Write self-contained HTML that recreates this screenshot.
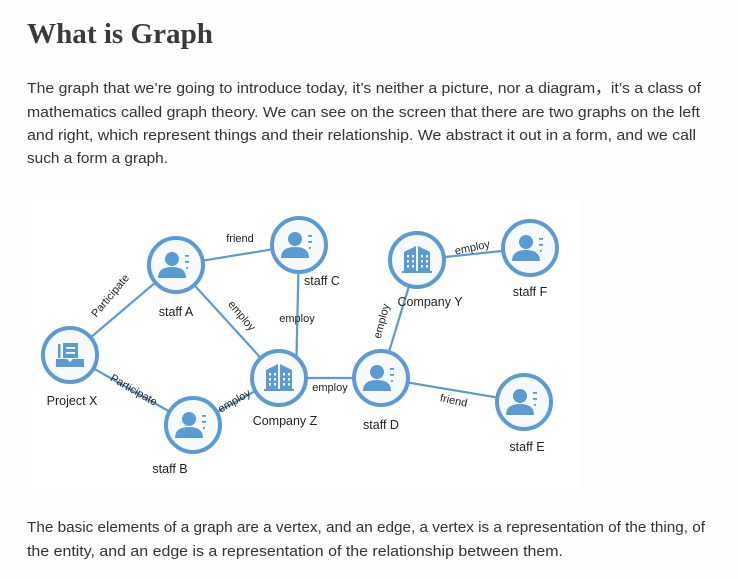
<!DOCTYPE html>
<html><head><meta charset="utf-8"><style>
html,body{margin:0;padding:0;background:#fdfdfd;}
svg{display:block;}
</style></head><body>
<svg width="738" height="579" viewBox="0 0 738 579" xmlns="http://www.w3.org/2000/svg">
<defs>
<g id="person">
  <circle r="27" fill="#f7fafd" stroke="#5b9bd5" stroke-width="4"/>
  <circle cx="-4" cy="-6" r="7" fill="#5b9bd5"/>
  <path d="M-18,13 Q-18,2 -4,2 Q10,2 10,13 Z" fill="#5b9bd5"/>
  <rect x="9" y="-10" width="4" height="1.8" fill="#5b9bd5"/>
  <rect x="9" y="-4" width="4" height="1.8" fill="#5b9bd5"/>
  <rect x="10" y="2" width="2" height="1.8" fill="#5b9bd5"/>
</g>
<g id="bldg">
  <circle r="27" fill="#f7fafd" stroke="#5b9bd5" stroke-width="4"/>
  <path d="M-13,12 V-8 L-1,-14 V12 Z M1,12 V-14 L13,-8 V12 Z" fill="#5b9bd5"/>
  <rect x="-15" y="11" width="30" height="2" fill="#5b9bd5"/>
  <g fill="#fff">
    <rect x="-10" y="-5" width="2" height="2.5"/><rect x="-5" y="-5" width="2" height="2.5"/>
    <rect x="-10" y="0" width="2" height="2.5"/><rect x="-5" y="0" width="2" height="2.5"/>
    <rect x="-10" y="5" width="2" height="2.5"/><rect x="-5" y="5" width="2" height="2.5"/>
    <rect x="4" y="-5" width="2" height="2.5"/><rect x="9" y="-5" width="2" height="2.5"/>
    <rect x="4" y="0" width="2" height="2.5"/><rect x="9" y="0" width="2" height="2.5"/>
    <rect x="4" y="5" width="2" height="2.5"/><rect x="9" y="5" width="2" height="2.5"/>
  </g>
</g>
<g id="proj">
  <circle r="27" fill="#f7fafd" stroke="#5b9bd5" stroke-width="4"/>
  <rect x="-7" y="-12" width="15" height="15" fill="#5b9bd5"/>
  <rect x="-12" y="-11" width="2.5" height="14" fill="#5b9bd5"/>
  <rect x="-4" y="-8" width="9" height="1.8" fill="#fff"/>
  <rect x="-4" y="-3" width="9" height="1.8" fill="#fff"/>
  <path d="M-14,4 H-3 L0,7 L3,4 H14 V12 H-14 Z" fill="#5b9bd5"/>
</g>
</defs>

<text x="27" y="43" font-family="Liberation Serif, serif" font-weight="bold" font-size="29" fill="#3a3a3a" textLength="186" lengthAdjust="spacingAndGlyphs">What is Graph</text>

<g font-family="Liberation Sans, sans-serif" font-size="15" fill="#333">
<text x="27" y="93" textLength="674" lengthAdjust="spacingAndGlyphs">The graph that we’re going to introduce today, it’s neither a picture, nor a diagram，it’s a class of</text>
<text x="27" y="117" textLength="673" lengthAdjust="spacingAndGlyphs">mathematics called graph theory. We can see on the screen that there are two graphs on the left</text>
<text x="27" y="140" textLength="669" lengthAdjust="spacingAndGlyphs">and right, which represent things and their relationship. We abstract it out in a form, and we call</text>
<text x="27" y="163" textLength="141" lengthAdjust="spacingAndGlyphs">such a form a graph.</text>
<text x="27" y="532" textLength="678" lengthAdjust="spacingAndGlyphs">The basic elements of a graph are a vertex, and an edge, a vertex is a representation of the thing, of</text>
<text x="27" y="556" textLength="536" lengthAdjust="spacingAndGlyphs">the entity, and an edge is a representation of the relationship between them.</text>
</g>

<rect x="27" y="195" width="552" height="295" fill="#ffffff"/>

<g stroke="#5b9bd5" stroke-width="2.2" fill="none">
  <line x1="70" y1="355" x2="176" y2="265"/>
  <line x1="70" y1="355" x2="193" y2="425"/>
  <line x1="176" y1="265" x2="299" y2="245"/>
  <line x1="176" y1="265" x2="279" y2="378"/>
  <line x1="299" y1="245" x2="296" y2="378"/>
  <line x1="193" y1="425" x2="279" y2="378"/>
  <line x1="279" y1="378" x2="381" y2="378"/>
  <line x1="381" y1="378" x2="417" y2="260"/>
  <line x1="417" y1="260" x2="530" y2="248"/>
  <line x1="381" y1="378" x2="524" y2="402"/>
</g>

<use href="#proj" x="70" y="355"/>
<use href="#person" x="176" y="265"/>
<use href="#person" x="299" y="245"/>
<use href="#bldg" x="279" y="378"/>
<use href="#person" x="193" y="425"/>
<use href="#bldg" x="417" y="260"/>
<use href="#person" x="530" y="248"/>
<use href="#person" x="381" y="378"/>
<use href="#person" x="524" y="402"/>

<g font-family="Liberation Sans, sans-serif" font-size="12.5" fill="#222" text-anchor="middle">
  <text x="176" y="316">staff A</text>
  <text x="322" y="285">staff C</text>
  <text x="72" y="405">Project X</text>
  <text x="285" y="425">Company Z</text>
  <text x="170" y="473">staff B</text>
  <text x="430" y="306">Company Y</text>
  <text x="530" y="296">staff F</text>
  <text x="381" y="429">staff D</text>
  <text x="527" y="451">staff E</text>
</g>
<g font-family="Liberation Sans, sans-serif" font-size="11" fill="#222" text-anchor="middle">
  <text x="240" y="242">friend</text>
  <text transform="translate(113,298) rotate(-50)">Participate</text>
  <text transform="translate(239,318) rotate(50)">employ</text>
  <text x="297" y="322">employ</text>
  <text transform="translate(132,393) rotate(30)">Participate</text>
  <text transform="translate(236,404) rotate(-30)">employ</text>
  <text x="330" y="391">employ</text>
  <text transform="translate(385,322) rotate(-75)">employ</text>
  <text transform="translate(473,251) rotate(-12)">employ</text>
  <text transform="translate(453,404) rotate(12)">friend</text>
</g>
</svg>
</body></html>
